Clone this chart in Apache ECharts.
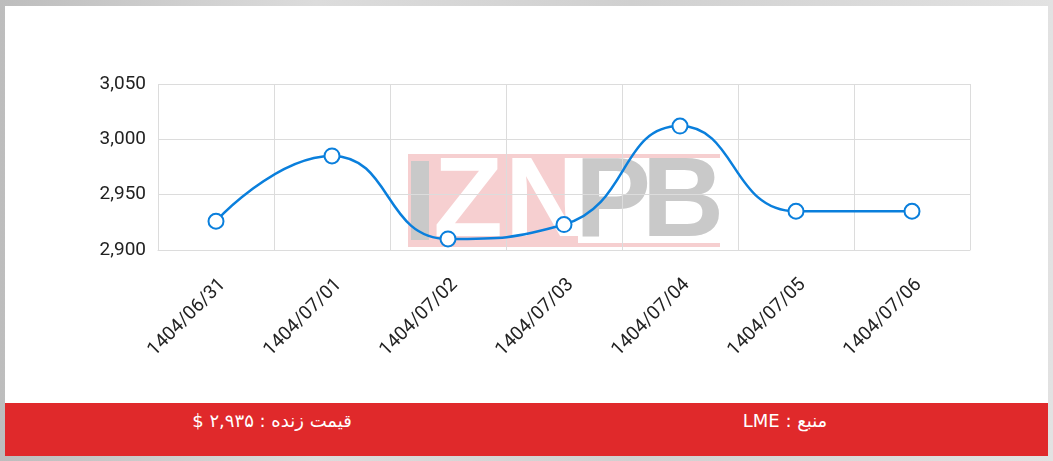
<!DOCTYPE html>
<html>
<head>
<meta charset="utf-8">
<script src="https://cdn.jsdelivr.net/npm/echarts@6/dist/echarts.min.js"></script>
<style>
  html, body { margin: 0; padding: 0; width: 1053px; height: 461px; overflow: hidden; }
  #frame { position: absolute; left: 0; top: 0; width: 1053px; height: 461px;
           background: linear-gradient(90deg, #bdbdbd 0%, #dcdcdc 30%, #d0d0d0 60%, #e2e2e2 100%); }
  #panel { position: absolute; left: 5px; top: 6px; width: 1043px; height: 397px; background: #ffffff; }
  #chart { position: absolute; left: 0; top: 0; width: 1053px; height: 461px; }
  #footer { position: absolute; left: 5px; top: 403px; width: 1043px; height: 53px; background: #e0292b; }
  .ft { position: absolute; top: 7px; color: #ffffff; font-family: "DejaVu Sans", sans-serif;
        font-size: 18px; font-weight: normal; white-space: nowrap; transform: translateX(-50%); direction: rtl; }
</style>
</head>
<body>
<div id="frame"></div>
<div id="panel"></div>
<div id="footer">
  <div class="ft" style="left:267px;">قیمت زنده : ۲,۹۳۵ $</div>
  <div class="ft" style="left:780px;">منبع : LME</div>
</div>
<div id="chart"></div>
<script>
const categories = ['1404/06/31', '1404/07/01', '1404/07/02', '1404/07/03', '1404/07/04', '1404/07/05', '1404/07/06'];
const prices = [2926, 2985, 2910, 2923, 3012, 2935, 2935];
const yTicks = { min: 2900, max: 3050, interval: 50 };

const chart = echarts.init(document.getElementById('chart'), null, { renderer: 'canvas' });
const pink = '#f6cfd0';
const gray = '#c9c9c9';
const wmFont = 'bold 114px "Liberation Sans", Arial, sans-serif';
function letter(ch, cx, color) {
  return { type: 'text', z: -5, silent: true, x: cx, y: 148,
    style: { text: ch, font: wmFont, fill: color, align: 'center', verticalAlign: 'top' } };
}
chart.setOption({
  animation: false,
  backgroundColor: 'transparent',
  grid: { left: 158, right: 83, top: 84, bottom: 211, containLabel: false },
  xAxis: {
    type: 'category',
    data: categories,
    boundaryGap: true,
    axisLine: { show: true, lineStyle: { color: '#dcdcdc' } },
    axisTick: { show: false },
    splitLine: { show: true, lineStyle: { color: '#dcdcdc', width: 1 } },
    axisLabel: { rotate: 45, margin: 25, verticalAlign: 'top', color: '#222222', fontSize: 19, fontFamily: 'Roboto', interval: 0 }
  },
  yAxis: {
    type: 'value',
    min: yTicks.min, max: yTicks.max, interval: yTicks.interval,
    axisLine: { show: false },
    axisTick: { show: false },
    splitLine: { show: true, lineStyle: { color: '#dcdcdc', width: 1 } },
    axisLabel: { color: '#222222', fontSize: 19, fontFamily: 'Roboto', margin: 12,
      formatter: v => v.toLocaleString('en-US') }
  },
  graphic: [
    { type: 'rect', z: -6, silent: true, shape: { x: 408, y: 154, width: 170, height: 93 }, style: { fill: pink } },
    { type: 'rect', z: -6, silent: true, shape: { x: 408, y: 154, width: 312, height: 4 }, style: { fill: pink } },
    { type: 'rect', z: -6, silent: true, shape: { x: 408, y: 243, width: 312, height: 4 }, style: { fill: pink } },
    { type: 'rect', z: -5, silent: true, shape: { x: 411, y: 161, width: 18, height: 79 }, style: { fill: gray } },
    letter('Z', 468, '#ffffff'),
    letter('N', 546, '#ffffff'),
    letter('P', 613, gray),
    letter('B', 683, gray)
  ],
  series: [{
    type: 'line',
    data: prices,
    smooth: true,
    symbol: 'emptyCircle',
    symbolSize: 15,
    lineStyle: { color: '#0a7fdc', width: 2.5 },
    itemStyle: { color: '#0a7fdc', borderColor: '#0a7fdc', borderWidth: 3.5 },
    z: 5
  }]
});
</script>
</body>
</html>
